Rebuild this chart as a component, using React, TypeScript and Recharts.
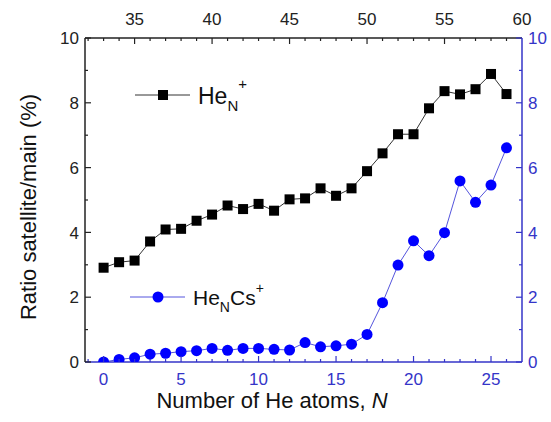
import React from "react"
import { LineChart, Line, XAxis, YAxis } from "recharts"

// number of He atoms N
const nValues = [0, 1, 2, 3, 4, 5, 6, 7, 8, 9, 10, 11, 12, 13, 14, 15, 16, 17, 18, 19, 20, 21, 22, 23, 24, 25, 26]
// He_N+ ratio (%)
const heN = [2.91, 3.08, 3.13, 3.72, 4.09, 4.11, 4.36, 4.55, 4.83, 4.72, 4.88, 4.67, 5.02, 5.05, 5.36, 5.13, 5.36, 5.89, 6.44, 7.03, 7.03, 7.83, 8.36, 8.26, 8.42, 8.89, 8.27]
// He_N Cs+ ratio (%)
const heNCs = [0.0, 0.08, 0.13, 0.24, 0.27, 0.32, 0.35, 0.42, 0.36, 0.42, 0.42, 0.39, 0.37, 0.6, 0.47, 0.5, 0.55, 0.85, 1.83, 2.99, 3.74, 3.28, 3.99, 5.59, 4.93, 5.46, 6.61]

const bottomTicks = [-1, 0, 1, 2, 3, 4, 5, 6, 7, 8, 9, 10, 11, 12, 13, 14, 15, 16, 17, 18, 19, 20, 21, 22, 23, 24, 25, 26]
const topTicks = [32, 33, 34, 35, 36, 37, 38, 39, 40, 41, 42, 43, 44, 45, 46, 47, 48, 49, 50, 51, 52, 53, 54, 55, 56, 57, 58, 59, 60]
const yTicks = [0, 1, 2, 3, 4, 5, 6, 7, 8, 9, 10]

const data = nValues.map((n, i) => ({ n, heN: heN[i], heNCs: heNCs[i] }))

const FONT = "'Liberation Sans', Arial, sans-serif"
const BLUE = "#0000ff"
const AXIS_BLUE = "#3434c8"

const BottomTick = (props: any) => {
  const { x, y, payload } = props
  const v = payload.value
  const major = v % 5 === 0
  return (
    <g>
      <line x1={x} y1={y} x2={x} y2={y - (major ? 6 : 3)} stroke={AXIS_BLUE} strokeWidth={1.2} />
      {major && (
        <text x={x} y={y + 23} textAnchor="middle" fill={AXIS_BLUE} fontSize={17} fontFamily={FONT}>
          {v}
        </text>
      )}
    </g>
  )
}

const TopTick = (props: any) => {
  const { x, y, payload } = props
  const v = payload.value
  const major = v % 5 === 0
  return (
    <g>
      {v < 60 && <line x1={x} y1={y} x2={x} y2={y + (major ? 6 : 3)} stroke="#222" strokeWidth={1.2} />}
      {major && (
        <text x={x} y={y - 13} textAnchor="middle" fill="#222" fontSize={17} fontFamily={FONT}>
          {v}
        </text>
      )}
    </g>
  )
}

const LeftTick = (props: any) => {
  const { x, y, payload } = props
  const v = payload.value
  const major = v % 2 === 0
  return (
    <g>
      <line x1={x} y1={y} x2={x + (major ? 6 : 3)} y2={y} stroke="#222" strokeWidth={1.2} />
      {major && (
        <text x={x - 6} y={y} dy="0.36em" textAnchor="end" fill="#222" fontSize={17} fontFamily={FONT}>
          {v}
        </text>
      )}
    </g>
  )
}

const RightTick = (props: any) => {
  const { x, y, payload } = props
  const v = payload.value
  const major = v % 2 === 0
  return (
    <g>
      <line x1={x} y1={y} x2={x - (major ? 6 : 3)} y2={y} stroke={AXIS_BLUE} strokeWidth={1.2} />
      {major && (
        <text x={x + 6} y={y} dy="0.36em" textAnchor="start" fill={AXIS_BLUE} fontSize={17} fontFamily={FONT}>
          {v}
        </text>
      )}
    </g>
  )
}

const SquareDot = (props: any) => {
  const { cx, cy, index } = props
  return <rect key={`sq-${index}`} x={cx - 5} y={cy - 5} width={10} height={10} fill="#000" />
}

const CircleDot = (props: any) => {
  const { cx, cy, index } = props
  return <circle key={`ci-${index}`} cx={cx} cy={cy} r={5.5} fill={BLUE} />
}

function Overlay() {
  return (
    <svg width={551} height={422} style={{ position: "absolute", left: 0, top: 0, pointerEvents: "none" }}>
      {/* legend */}
      <line x1={135} y1={95} x2={190} y2={95} stroke="#333" strokeWidth={1} />
      <rect x={158} y={90} width={10} height={10} fill="#000" />
      <text x={198} y={104} fontSize={23} fontFamily={FONT} fill="#111">
        He
        <tspan fontSize={15} dy={7}>N</tspan>
        <tspan fontSize={15} dy={-22}>+</tspan>
      </text>
      <line x1={130} y1={297} x2={185} y2={297} stroke="#5555dd" strokeWidth={1} />
      <circle cx={158} cy={297} r={5.5} fill={BLUE} />
      <text x={193} y={305} fontSize={21} fontFamily={FONT} fill="#111">
        He
        <tspan fontSize={14} dy={7}>N</tspan>
        <tspan dy={-7}>Cs</tspan>
        <tspan fontSize={14} dy={-12}>+</tspan>
      </text>
      {/* axis titles */}
      <text x={36} y={207} transform="rotate(-90 36 207)" textAnchor="middle" fontSize={22} fontFamily={FONT} fill="#111">
        Ratio satellite/main (%)
      </text>
      <text x={272} y={408} textAnchor="middle" fontSize={22} fontFamily={FONT} fill="#111">
        Number of He atoms, <tspan fontStyle="italic">N</tspan>
      </text>
    </svg>
  )
}

export default function App() {
  return (
    <div style={{ position: "absolute", left: 0, top: 0, width: 551, height: 422, background: "#fff" }}>
      <LineChart width={551} height={422} data={data} margin={{ top: 0, right: 0, bottom: 0, left: 0 }}>
        <XAxis
          xAxisId="bottom"
          dataKey="n"
          type="number"
          domain={[-1.2, 27]}
          allowDataOverflow
          ticks={bottomTicks}
          interval={0}
          height={60}
          tickSize={0}
          tickMargin={0}
          tickLine={false}
          stroke={AXIS_BLUE}
          strokeWidth={1.5}
          tick={<BottomTick />}
        />
        <XAxis
          xAxisId="top"
          dataKey="n"
          orientation="top"
          type="number"
          domain={[31.8, 60]}
          allowDataOverflow
          ticks={topTicks}
          interval={0}
          height={38}
          tickSize={0}
          tickMargin={0}
          tickLine={false}
          stroke="#222"
          strokeWidth={1.5}
          tick={<TopTick />}
        />
        <YAxis
          yAxisId="left"
          type="number"
          domain={[0, 10]}
          allowDataOverflow
          ticks={yTicks}
          interval={0}
          width={85}
          tickSize={0}
          tickMargin={0}
          tickLine={false}
          stroke="#222"
          strokeWidth={1.5}
          tick={<LeftTick />}
        />
        <YAxis
          yAxisId="right"
          orientation="right"
          type="number"
          domain={[0, 10]}
          allowDataOverflow
          ticks={yTicks}
          interval={0}
          width={29}
          tickSize={0}
          tickMargin={0}
          tickLine={false}
          stroke={AXIS_BLUE}
          strokeWidth={1.5}
          tick={<RightTick />}
        />
        {/* invisible series so the top axis gets drawn */}
        <Line
          xAxisId="top"
          yAxisId="left"
          dataKey="heN"
          stroke="none"
          dot={false}
          activeDot={false}
          legendType="none"
          isAnimationActive={false}
        />
        <Line
          xAxisId="bottom"
          yAxisId="left"
          dataKey="heN"
          stroke="#333"
          strokeWidth={1}
          dot={SquareDot}
          activeDot={false}
          isAnimationActive={false}
        />
        <Line
          xAxisId="bottom"
          yAxisId="right"
          dataKey="heNCs"
          stroke="#5555dd"
          strokeWidth={1}
          dot={CircleDot}
          activeDot={false}
          isAnimationActive={false}
        />
      </LineChart>
      <Overlay />
    </div>
  )
}
